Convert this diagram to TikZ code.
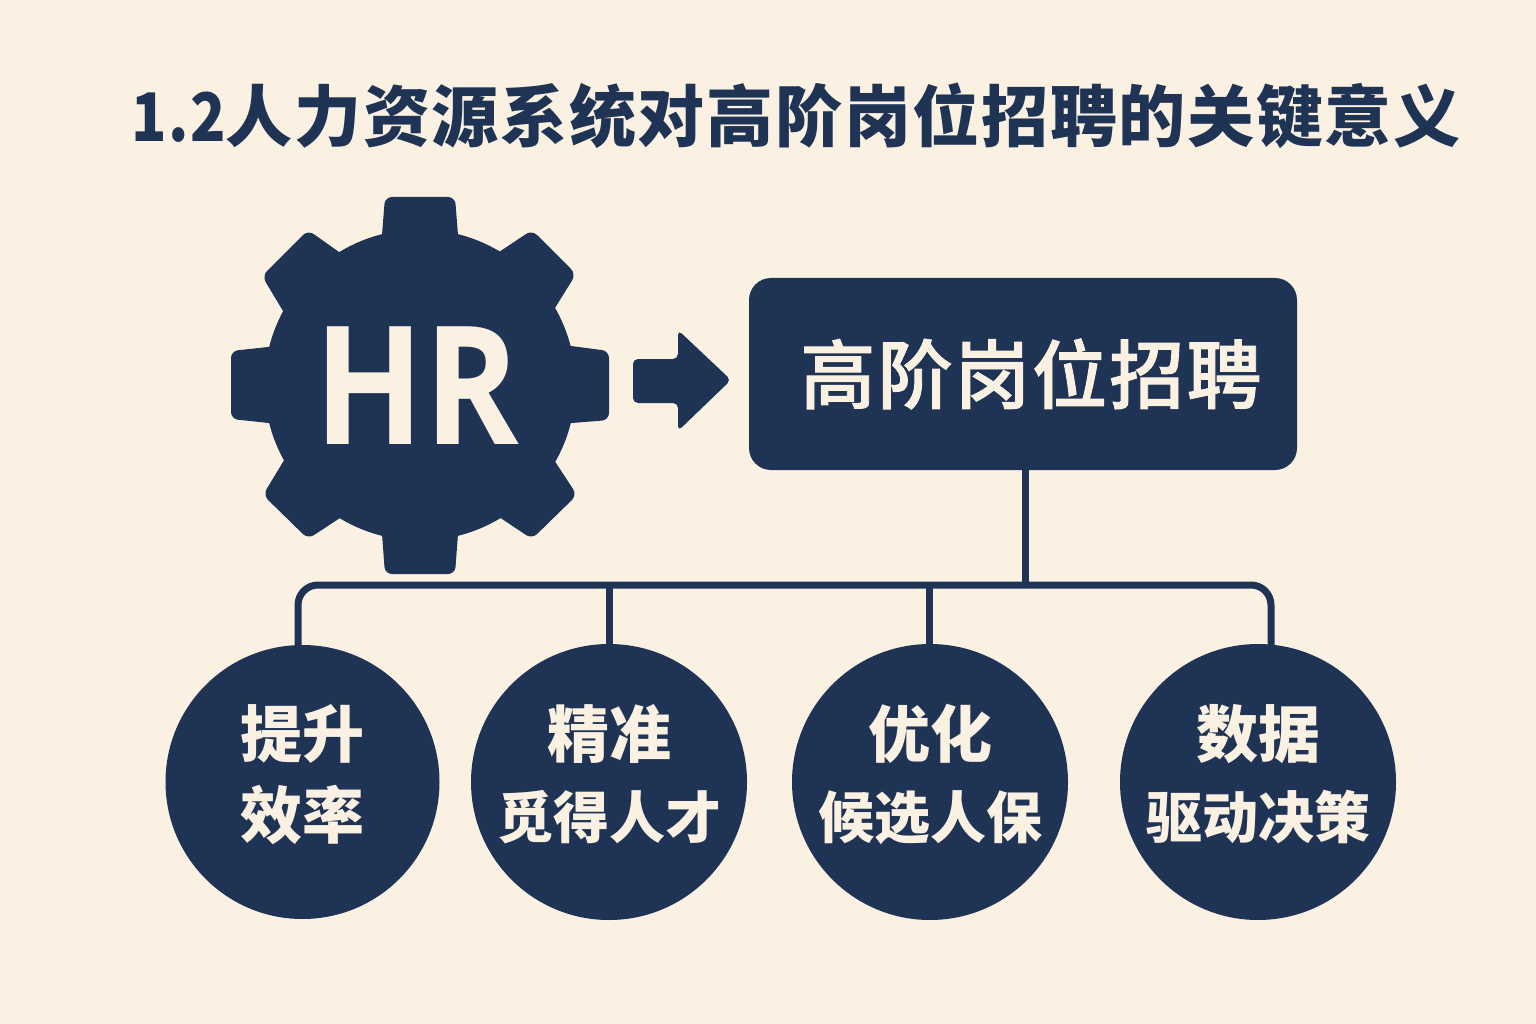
\documentclass[tikz,border=0pt]{standalone}
\usepackage{fontspec}
\usepackage{graphicx}
\usetikzlibrary{calc}
\newfontfamily\cjk{Noto Sans CJK SC}
\newfontfamily\cjkm[LetterSpace=3,FakeBold=1.2]{Noto Sans CJK SC Medium}
\newfontfamily\titlecjk[LetterSpace=2.5]{Noto Sans CJK SC}
\newfontfamily\hrfont{Open Sans}
\definecolor{navy}{RGB}{31,51,84}
\definecolor{cream}{RGB}{250,241,227}
\tikzset{
  x=1pt,y=-1pt,
  titletext/.style={text=navy,inner sep=0,font=\titlecjk\bfseries\fontsize{67}{67}\selectfont},
  hrtext/.style={text=cream,inner sep=0,font=\hrfont\bfseries\fontsize{165}{165}\selectfont},
  goalbox/.style={fill=navy,rounded corners=22pt,minimum width=548pt,minimum height=192pt,inner sep=0,text=cream,font=\cjkm\fontsize{75}{75}\selectfont},
  benefit/.style={circle,fill=navy,minimum size=276pt,inner sep=0,text=cream,align=center,font=\cjk\bfseries\fontsize{62}{81}\selectfont},
  link/.style={draw=navy,line width=7pt},
  geartooth/.style={fill=navy,rounded corners=7pt},
  blockarrow/.style={fill=navy,rounded corners=5pt}
}
\newcommand{\gtooth}[4]{\fill[geartooth] ($(#2)!1.3!(#1)$) -- (#2) -- (#3) -- ($(#3)!1.3!(#4)$) -- cycle;}
\newcommand{\twolines}[2]{\raisebox{7pt}{\begin{tabular}{@{}c@{}}#1\\#2\end{tabular}}}
\newcommand{\smline}[1]{{\fontsize{56}{81}\selectfont #1}}
\begin{document}
\begin{tikzpicture}
\fill[cream] (0,0) rectangle (1536,1024);
\useasboundingbox (0,0) rectangle (1536,1024);
\node[titletext,anchor=center] (title) at (796,116) {\scalebox{.87}[1]{1.2}人力资源系统对高阶岗位招聘的关键意义};
% gear
\fill[navy] (420,385) circle [radius=155.5];
\gtooth{382,235}{385,197}{455,197}{458,235}
\gtooth{499,252}{532,230}{576,274}{555,308}
\gtooth{571,346}{609,351}{609,420}{572,423}
\gtooth{556,463}{577,495}{532,539}{499,517}
\gtooth{458,534}{455,574}{385,574}{382,534}
\gtooth{340,518}{308,539}{263,495}{283,462}
\gtooth{269,423}{231,419}{231,351}{268,347}
\gtooth{283,311}{262,276}{308,230}{339,252}
\node[hrtext] (hr) at (417,386) {\scalebox{.87}[1]{HR}};
% arrow
\fill[blockarrow] (633,359) -- (678,359) -- (678,330) -- (731,380) -- (678,431) -- (678,403) -- (633,403) -- cycle;
% nodes
\node[goalbox] (goal) at (1023,374) {\hspace*{16pt}\raisebox{3pt}{高阶岗位招聘}};
\coordinate (bus) at (1025,585);
\node[benefit,minimum size=274pt] (c1) at (302.5,782) {\twolines{提升}{效率}};
\node[benefit] (c2) at (609,782) {\twolines{精准}{\smline{觅得人才}}};
\node[benefit] (c3) at (930,782) {\twolines{优化}{\smline{候选人保}}};
\node[benefit] (c4) at (1258,782) {\twolines{数据}{\smline{驱动决策}}};
% links
\draw[link] ([xshift=2pt]goal.south) -- (bus);
\draw[link,rounded corners=20pt] ([xshift=-4.5pt,yshift=-4pt]c1.north) |- (bus);
\draw[link,rounded corners=20pt] ([xshift=13pt,yshift=-4pt]c4.north) |- (bus);
\draw[link] (c2.north) -- (c2.north |- bus);
\draw[link] ([xshift=-1pt]c3.north) -- ([xshift=-1pt]c3.north |- bus);
\end{tikzpicture}
\end{document}
